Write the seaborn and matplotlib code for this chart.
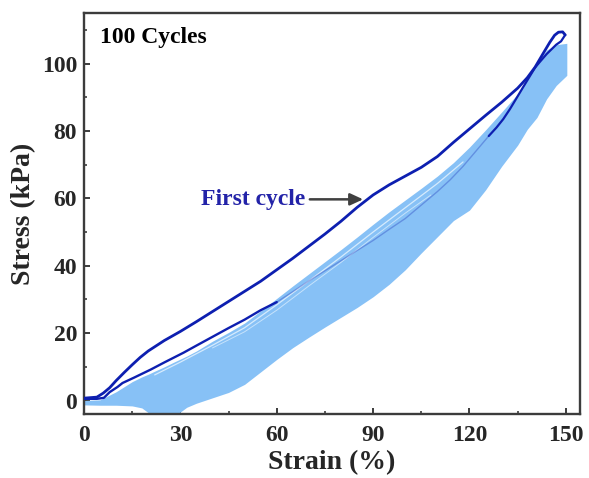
import matplotlib
matplotlib.use("Agg")
import matplotlib.pyplot as plt
import seaborn as sns
import pandas as pd
from matplotlib.ticker import MultipleLocator

# First cycle: loading branch (strain %, stress kPa)
load_strain = [0, 4, 6, 8, 10, 12.5, 15, 17.5, 20, 25, 30, 35, 40, 45, 50, 55,
               60, 65, 70, 75, 80, 85, 90, 95, 100, 105, 110, 115, 120, 125,
               130, 135, 138, 140.4, 143, 145, 146.5, 147.7, 149.0, 149.8]
load_stress = [0.7, 1.0, 2.2, 3.8, 5.9, 8.3, 10.6, 12.8, 14.7, 17.8, 20.5,
               23.4, 26.4, 29.4, 32.4, 35.4, 38.8, 42.2, 45.8, 49.4, 53.2,
               57.3, 61.0, 64.0, 66.6, 69.2, 72.4, 76.6, 80.6, 84.6, 88.5,
               92.7, 95.8, 98.9, 103.1, 106.3, 108.4, 109.3, 109.4, 108.5]

# First cycle: unloading branch, from peak strain back to zero
unload_strain = [149.8, 148.5, 147, 145.5, 144, 142, 140.4, 138.5, 136.7,
                 134.5, 132.6, 130.5, 128.4, 126, 122, 118, 114, 110, 105,
                 100, 95, 90, 85, 80, 75, 70, 65, 60, 55, 50, 45, 40, 35, 31,
                 25, 20.8, 15.6, 12, 10.4, 8, 6.2, 4, 0]
unload_stress = [108.5, 106.6, 105.6, 104.2, 102.8, 100.6, 98.8, 95.8, 93.0,
                 89.5, 86.5, 83.5, 81.0, 78.5, 74.0, 69.5, 65.5, 62.0, 58.0,
                 54.0, 50.8, 47.5, 44.5, 41.5, 38.5, 35.5, 32.3, 29.2, 26.8,
                 24.0, 21.5, 18.9, 16.3, 14.2, 11.3, 9.2, 6.8, 5.2, 4.0, 2.5,
                 0.8, 0.5, 0.5]

# Envelope of the following 100 cycles
band_strain = [0, 5, 10, 15, 18, 20, 22, 25, 28, 30, 32, 35, 40, 45, 50, 55,
               60, 65, 70, 75, 80, 85, 90, 95, 100, 105, 110, 115, 120, 125,
               130, 135, 138, 141, 144, 147, 150.3]
band_upper = [0.0, 0.2, 2.6, 5.6, 7.0, 7.8, 8.7, 10.0, 11.4, 12.3, 13.2,
              14.7, 17.6, 20.2, 23.0, 26.6, 30.3, 34.0, 37.6, 41.2, 44.8,
              48.5, 52.3, 56.0, 59.5, 63.0, 66.6, 70.6, 75.2, 80.3, 85.6,
              91.0, 95.2, 100.2, 104.0, 105.6, 106.0]
band_lower = [-1.3, -1.4, -1.4, -1.6, -2.2, -3.6, -4.8, -5.0, -4.8, -3.4,
              -2.0, -0.8, 0.8, 2.4, 4.8, 8.5, 12.2, 15.7, 18.8, 21.8, 24.7,
              27.6, 30.8, 34.5, 38.8, 43.8, 48.6, 53.4, 56.5, 62.5, 69.5,
              75.8, 80.5, 84.0, 89.5, 93.5, 96.5]

# Pale gaps between neighbouring cycles near the top of the envelope
gap1_strain = [22, 30, 40, 50, 60, 70, 80, 90, 100, 110, 118]
gap1_stress = [7.6, 11.4, 16.4, 21.6, 28.4, 35.5, 42.6, 50.0, 57.2, 64.4, 70.8]
gap2_strain = [40, 50, 60, 70, 80, 90, 100, 108]
gap2_stress = [15.6, 20.4, 26.8, 34.0, 41.0, 48.4, 55.6, 61.0]

x_ticks = [0, 30, 60, 90, 120, 150]
y_ticks = [0, 20, 40, 60, 80, 100]

sns.set_theme(style="ticks")
plt.rcParams["font.family"] = ["Liberation Serif", "DejaVu Serif"]
plt.rcParams["font.weight"] = "bold"

DARK = "#0d1fb0"
LIGHT = "#87c1f6"
PALE = "#d6ebfd"
EDGE = "#3c3c3c"

fig = plt.figure(figsize=(5.89, 4.78), dpi=100)
ax = fig.add_axes([0.1426, 0.1339, 0.8421, 0.8389])

ax.fill_between(band_strain, band_lower, band_upper, color=LIGHT,
                linewidth=0, zorder=2)
sns.lineplot(x=gap1_strain, y=gap1_stress, ax=ax, color=PALE,
             linewidth=0.9, sort=False, estimator=None, zorder=2.5)
sns.lineplot(x=gap2_strain, y=gap2_stress, ax=ax, color=PALE,
             linewidth=0.7, alpha=0.8, sort=False, estimator=None, zorder=2.5)

load_df = pd.DataFrame({"strain": load_strain, "stress": load_stress})
unload_df = pd.DataFrame({"strain": unload_strain, "stress": unload_stress})

# Unloading: upper part and lower part stand out, middle part is buried
# among the later cycles
sns.lineplot(data=unload_df.iloc[:14], x="strain", y="stress", ax=ax,
             color=DARK, linewidth=1.6, sort=False, estimator=None, zorder=3)
sns.lineplot(data=unload_df.iloc[13:28], x="strain", y="stress", ax=ax,
             color=DARK, linewidth=1.0, alpha=0.3, sort=False,
             estimator=None, zorder=3)
sns.lineplot(data=unload_df.iloc[27:], x="strain", y="stress", ax=ax,
             color=DARK, linewidth=1.7, sort=False, estimator=None, zorder=3)
sns.lineplot(data=load_df, x="strain", y="stress", ax=ax, color=DARK,
             linewidth=2.0, sort=False, estimator=None, zorder=4)

ax.set_xlim(0, 154.4)
ax.set_ylim(-4.0, 115.0)
ax.set_xticks(x_ticks)
ax.set_yticks(y_ticks)
ax.xaxis.set_minor_locator(MultipleLocator(15))
ax.yaxis.set_minor_locator(MultipleLocator(10))

ax.tick_params(axis="both", which="both", direction="in", color=EDGE,
               top=False, right=False)
ax.tick_params(axis="both", which="major", length=4, width=1.4,
               labelsize=17)
ax.tick_params(axis="both", which="minor", length=2.5, width=1.2)
ax.tick_params(axis="x", which="major", pad=8)
ax.tick_params(axis="y", which="major", pad=5)
for lab in ax.get_xticklabels() + ax.get_yticklabels():
    lab.set_fontweight("bold")

for side in ["left", "right", "top", "bottom"]:
    ax.spines[side].set_visible(True)
    ax.spines[side].set_color(EDGE)
    ax.spines[side].set_linewidth(1.7)

ax.set_xlabel("Strain (%)", fontsize=20, fontweight="bold", labelpad=3)
ax.set_ylabel("Stress (kPa)", fontsize=20, fontweight="bold", labelpad=4)

ax.text(5.0, 107.8, "100 Cycles", fontsize=17, fontweight="bold",
        color="black", ha="left", va="center")
ax.text(68.8, 58.0, "First cycle", fontsize=17, fontweight="bold",
        color="#2323a8", ha="right", va="baseline")
ax.annotate("", xy=(86.9, 59.7), xytext=(70.3, 59.7),
            arrowprops=dict(arrowstyle="-|>,head_length=0.65,head_width=0.3",
                            color="#404040", lw=1.8, shrinkA=0, shrinkB=0))

fig.savefig("out.png", dpi=100)
